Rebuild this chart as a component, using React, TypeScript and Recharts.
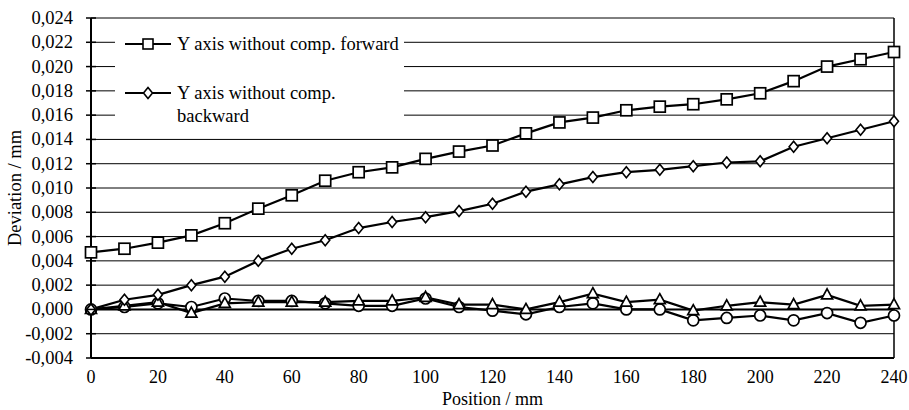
import { LineChart, Line, XAxis, YAxis, CartesianGrid, ReferenceLine } from 'recharts'

const positions = [0, 10, 20, 30, 40, 50, 60, 70, 80, 90, 100, 110, 120, 130, 140, 150, 160, 170, 180, 190, 200, 210, 220, 230, 240]

// Y axis without comp. forward (squares)
const fwdNoComp = [0.0047, 0.0050, 0.0055, 0.0061, 0.0071, 0.0083, 0.0094, 0.0106, 0.0113, 0.0117, 0.0124, 0.0130, 0.0135, 0.0145, 0.0154, 0.0158, 0.0164, 0.0167, 0.0169, 0.0173, 0.0178, 0.0188, 0.0200, 0.0206, 0.0212]
// Y axis without comp. backward (diamonds)
const bwdNoComp = [0.0000, 0.0008, 0.0012, 0.0020, 0.0027, 0.0040, 0.0050, 0.0057, 0.0067, 0.0072, 0.0076, 0.0081, 0.0087, 0.0097, 0.0103, 0.0109, 0.0113, 0.0115, 0.0118, 0.0121, 0.0122, 0.0134, 0.0141, 0.0148, 0.0155]
// with comp. forward (triangles)
const fwdComp = [0.0000, 0.0003, 0.0006, -0.0003, 0.0005, 0.0006, 0.0006, 0.0006, 0.0007, 0.0007, 0.0010, 0.0004, 0.0004, 0.0000, 0.0006, 0.0013, 0.0006, 0.0008, -0.0001, 0.0003, 0.0006, 0.0004, 0.0012, 0.0003, 0.0004]
// with comp. backward (circles)
const bwdComp = [0.0000, 0.0002, 0.0005, 0.0002, 0.0009, 0.0007, 0.0007, 0.0005, 0.0003, 0.0003, 0.0009, 0.0002, -0.0001, -0.0004, 0.0002, 0.0005, 0.0000, 0.0000, -0.0009, -0.0007, -0.0005, -0.0009, -0.0003, -0.0011, -0.0005]

const xTicks = [0, 20, 40, 60, 80, 100, 120, 140, 160, 180, 200, 220, 240]
const yTicks = [-0.004, -0.002, 0, 0.002, 0.004, 0.006, 0.008, 0.010, 0.012, 0.014, 0.016, 0.018, 0.020, 0.022, 0.024]

const data = positions.map((p, i) => ({
  pos: p,
  fwd: fwdNoComp[i],
  bwd: bwdNoComp[i],
  fwdC: fwdComp[i],
  bwdC: bwdComp[i],
}))

const FONT = '"Liberation Serif", "Times New Roman", serif'
const fmt = (v: number) => v.toFixed(3).replace('.', ',')

const Square = (p: any) => (
  <rect key={p.key} x={p.cx - 5.5} y={p.cy - 5.5} width={11} height={11} fill="#fff" stroke="#000" strokeWidth={1.7} />
)
const Diamond = (p: any) => (
  <polygon key={p.key} points={`${p.cx},${p.cy - 5.5} ${p.cx + 4.5},${p.cy} ${p.cx},${p.cy + 5.5} ${p.cx - 4.5},${p.cy}`} fill="#fff" stroke="#000" strokeWidth={1.6} />
)
const Triangle = (p: any) => (
  <polygon key={p.key} points={`${p.cx},${p.cy - 6} ${p.cx + 5.5},${p.cy + 4} ${p.cx - 5.5},${p.cy + 4}`} fill="#fff" stroke="#000" strokeWidth={1.7} />
)
const Circle = (p: any) => (
  <circle key={p.key} cx={p.cx} cy={p.cy} r={5.5} fill="#fff" stroke="#000" strokeWidth={1.7} />
)

const YTick = (p: any) => (
  <g>
    <line x1={86} x2={96} y1={p.y} y2={p.y} stroke="#000" strokeWidth={1.5} />
    <text x={73} y={p.y} dy={6} textAnchor="end" fontFamily={FONT} fontSize={18.5} fill="#000">
      {fmt(p.payload.value)}
    </text>
  </g>
)

function LegendBox() {
  const row = (marker: any, lines: string[], top: number) => (
    <div style={{ position: 'absolute', left: 8, top, display: 'flex', alignItems: 'flex-start' }}>
      <svg width={50} height={22} style={{ flex: 'none' }}>
        <line x1={2} x2={48} y1={11} y2={11} stroke="#000" strokeWidth={2} />
        {marker}
      </svg>
      <div style={{ marginLeft: 4, lineHeight: '23px' }}>
        {lines.map(l => <div key={l}>{l}</div>)}
      </div>
    </div>
  )
  return (
    <div style={{ position: 'absolute', left: 115, top: 28, width: 289, height: 98, background: '#fff', fontFamily: FONT, fontSize: 18.5, color: '#000' }}>
      {row(<rect x={20} y={6} width={10} height={10} fill="#fff" stroke="#000" strokeWidth={1.6} />, ['Y axis without comp. forward'], 5)}
      {row(<polygon points="25,5.5 29.5,11 25,16.5 20.5,11" fill="#fff" stroke="#000" strokeWidth={1.6} />, ['Y axis without comp.', 'backward'], 54)}
    </div>
  )
}

export default function App() {
  return (
    <div style={{ position: 'absolute', left: 0, top: 0, width: 909, height: 410, background: '#fff' }}>
      <LineChart width={909} height={410} data={data} margin={{ top: 18, right: 15, bottom: 2, left: 0 }}>
        <CartesianGrid vertical={false} stroke="#000" strokeWidth={1} />
        <XAxis
          dataKey="pos"
          type="number"
          domain={[0, 240]}
          ticks={xTicks}
          height={50}
          tickLine={false}
          tickSize={0}
          tickMargin={12}
          axisLine={{ stroke: '#000', strokeWidth: 2 }}
          tick={{ fontFamily: FONT, fontSize: 18, fill: '#000' }}
          label={{ value: 'Position / mm', position: 'insideBottom', offset: 3, fontFamily: FONT, fontSize: 18, fill: '#000' }}
        />
        <YAxis
          type="number"
          domain={[-0.004, 0.024]}
          ticks={yTicks}
          width={91}
          tickLine={false}
          axisLine={{ stroke: '#000', strokeWidth: 2 }}
          tick={<YTick />}
          interval={0}
          label={{ value: 'Deviation / mm', angle: -90, position: 'center', dx: -31, fontFamily: FONT, fontSize: 18.5, fill: '#000' }}
        />
        <ReferenceLine x={240} stroke="#000" strokeWidth={1.5} />
        <ReferenceLine y={0} stroke="#000" strokeWidth={2} />
        <Line dataKey="bwdC" name="Y axis with comp. backward" stroke="#000" strokeWidth={2.2} dot={Circle} isAnimationActive={false} />
        <Line dataKey="fwdC" name="Y axis with comp. forward" stroke="#000" strokeWidth={2.2} dot={Triangle} isAnimationActive={false} />
        <Line dataKey="bwd" name="Y axis without comp. backward" stroke="#000" strokeWidth={2.2} dot={Diamond} isAnimationActive={false} />
        <Line dataKey="fwd" name="Y axis without comp. forward" stroke="#000" strokeWidth={2.2} dot={Square} isAnimationActive={false} />
      </LineChart>
      <LegendBox />
    </div>
  )
}
